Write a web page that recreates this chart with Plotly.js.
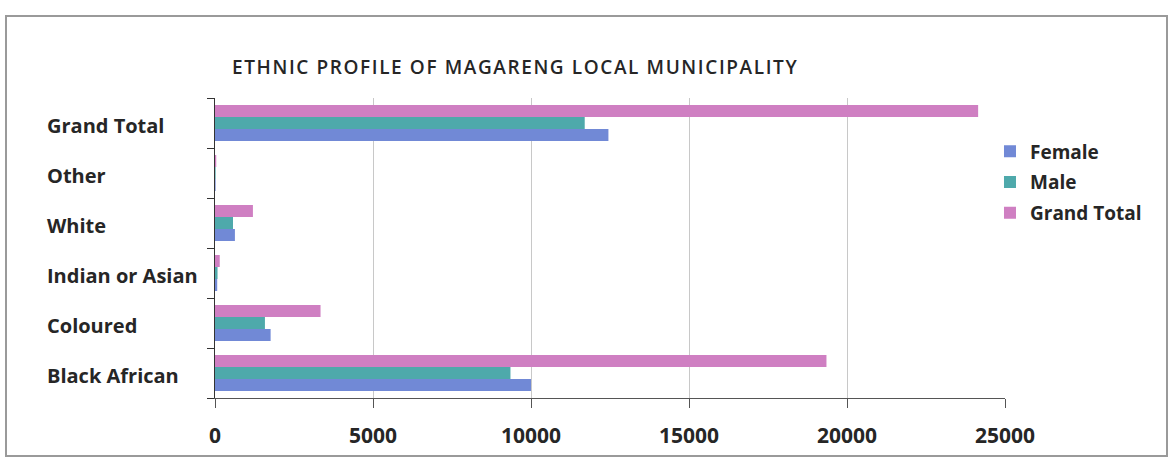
<!DOCTYPE html>
<html>
<head>
<meta charset="utf-8">
<script src="https://cdn.plot.ly/plotly-3.0.1.min.js"></script>
<style>
  html, body { margin: 0; padding: 0; background: #fff; }
  #frame { position: absolute; left: 5px; top: 15px; width: 1163px; height: 442px; border: 2px solid #9a9a9a; box-sizing: border-box; pointer-events: none; z-index: 5; }
  #chart { position: absolute; left: 0; top: 0; width: 1170px; height: 464px; }
  .gtitle { letter-spacing: 1.6px; }
</style>
</head>
<body>
<div id="chart"></div>
<div id="frame"></div>
<script>
const categories = ["Black African", "Coloured", "Indian or Asian", "White", "Other", "Grand Total"];
const female = [10000, 1760, 70, 630, 20, 12450];
const male = [9350, 1580, 80, 570, 20, 11700];
const grandTotal = [19350, 3340, 150, 1200, 40, 24150];
const xTicks = [0, 5000, 10000, 15000, 20000, 25000];

const font = "Open Sans, Liberation Sans, sans-serif";
const textColor = "#262626";

const traces = [
  { name: "Female", y: categories, x: female, type: "bar", orientation: "h",
    legendgroup: "f", marker: { color: "#7189d6" } },
  { name: "Male", y: categories, x: male, type: "bar", orientation: "h",
    legendgroup: "m", marker: { color: "#4ea9ab" } },
  { name: "Grand Total", y: categories, x: grandTotal, type: "bar", orientation: "h",
    legendgroup: "g", marker: { color: "#cf7fc2" } }
];

// left-aligned category labels, built from the categories array
const labelAnnotations = categories.map(c => ({
  text: c, x: -0.215, xref: "paper", xanchor: "left",
  y: c, yref: "y", yanchor: "middle", yshift: -2, showarrow: false,
  font: { family: font, size: 20, color: textColor, weight: 700 }
}));

const layout = {
  width: 1170, height: 464,
  paper_bgcolor: "#ffffff", plot_bgcolor: "#ffffff",
  margin: { l: 215, r: 165, t: 98, b: 66 },
  barmode: "group", bargap: 0.28, bargroupgap: 0,
  showlegend: true,
  legend: { x: 0.981, xanchor: "left", y: 0.885, yanchor: "top", traceorder: "grouped",
    tracegroupgap: 3,
    font: { family: font, size: 19, color: textColor, weight: 700 },
    itemwidth: 30, bgcolor: "rgba(0,0,0,0)" },
  title: { text: "ETHNIC PROFILE OF MAGARENG LOCAL MUNICIPALITY",
    x: 232 / 1170, xanchor: "left", xref: "container", y: 1 - 67 / 464, yanchor: "middle",
    font: { family: font, size: 19, color: textColor, weight: 600 } },
  annotations: labelAnnotations,
  xaxis: { range: [0, 25000], tickvals: xTicks, ticktext: xTicks.map(String),
    showgrid: true, gridcolor: "#c8c8c8", gridwidth: 1, zeroline: false,
    showline: true, linecolor: "#555", linewidth: 1,
    ticks: "outside", ticklen: 9, tickcolor: "#555", ticklabelstandoff: 10,
    tickfont: { family: font, size: 21, color: textColor, weight: 700 } },
  yaxis: { categoryorder: "array", categoryarray: categories,
    showline: true, linecolor: "#333", linewidth: 1.5, showticklabels: false,
    ticks: "outside", tickson: "boundaries", ticklen: 7, tickcolor: "#333" }
};

Plotly.newPlot("chart", traces, layout, { displayModeBar: false, staticPlot: true });
</script>
</body>
</html>
